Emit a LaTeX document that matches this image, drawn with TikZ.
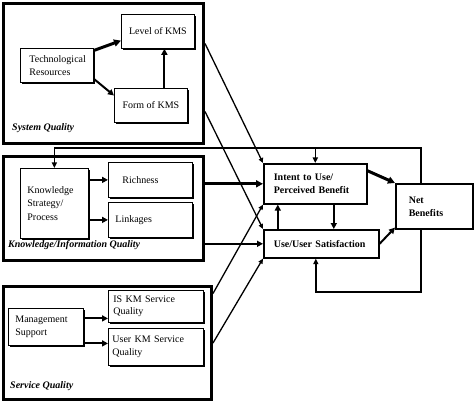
\documentclass[tikz,border=0pt]{standalone}
\usepackage{fontspec}
\setmainfont{Liberation Serif}
\usetikzlibrary{arrows.meta,shadows}
\tikzset{
  grp/.style={draw, line width=3pt, anchor=north west, inner sep=0pt},
  glabel/.style={anchor=west, inner sep=0pt, font=\fontsize{10}{12}\selectfont\bfseries\itshape},
  ibox/.style={draw, line width=0.8pt, fill=white, anchor=north west, inner sep=0pt, align=left,
    font=\fontsize{10}{12.5}\selectfont,
    drop shadow={shadow xshift=1.2pt, shadow yshift=-1.2pt, fill=black, opacity=1}},
  mbox/.style={draw, line width=1.6pt, fill=white, anchor=north west, inner sep=0pt, align=left,
    font=\fontsize{10}{13}\selectfont\bfseries,
    drop shadow={shadow xshift=1.5pt, shadow yshift=-1.5pt, fill=black, opacity=1}},
  arr/.style={line width=2pt, -{Triangle[length=6pt,width=6pt]}},
  bigarr/.style={line width=3pt, -{Triangle[length=7pt,width=7pt]}},
  thinarr/.style={line width=1.3pt, -{Triangle[length=5pt,width=4.5pt]}},
  fbarr/.style={line width=1.5pt, -{Triangle[length=5.5pt,width=5pt]}},
}
\begin{document}
\begin{tikzpicture}[x=1pt,y=-1pt]
\useasboundingbox (0,0) rectangle (474,401);

% group boxes
\node[grp, minimum width=200pt, minimum height=140pt] (sq) at (2,2) {};
\node[grp, minimum width=200pt, minimum height=104pt] (kiq) at (2,155) {};
\node[grp, minimum width=208pt, minimum height=113pt] (svq) at (2,285) {};
\node[glabel] (sqlab) at (12,128) {System Quality};
\node[glabel] (kiqlab) at (8,245) {Knowledge/Information Quality};
\node[glabel] (svqlab) at (10,386) {Service Quality};

% inner boxes
\node[ibox, minimum width=73pt, minimum height=34pt, text width=55pt] (tech) at (20,48) {Technological\\Resources};
\node[ibox, minimum width=73pt, minimum height=34pt, align=center] (lev) at (121,14) {Level of KMS};
\node[ibox, minimum width=73pt, minimum height=34pt, align=center] (form) at (114,88) {Form of KMS};
\node[ibox, minimum width=68pt, minimum height=70pt, text width=54pt, font=\fontsize{10}{13.5}\selectfont] (ks) at (20,168) {Knowledge\\Strategy/\\Process};
\node[ibox, minimum width=84pt, minimum height=35pt, text width=56pt] (rich) at (108,162) {Richness};
\node[ibox, minimum width=84pt, minimum height=35pt, text width=70pt] (link) at (108,202) {Linkages};
\node[ibox, minimum width=75pt, minimum height=37pt, text width=61pt] (ms) at (8,308) {Management\\Support};
\node[ibox, minimum width=95pt, minimum height=32pt, text width=85pt] (iskm) at (108,290) {IS KM Service\\Quality};
\node[ibox, minimum width=95pt, minimum height=37pt, text width=87pt] (ukm) at (108,328) {User KM Service\\Quality};

% main boxes
\node[mbox, minimum width=103pt, minimum height=40pt, text width=83pt] (int) at (263,163) {Intent to Use/\\Perceived Benefit};
\node[mbox, minimum width=115pt, minimum height=28pt, text width=95pt] (use) at (263,229) {Use/User Satisfaction};
\node[mbox, minimum width=77pt, minimum height=45pt, text width=51pt] (net) at (395,183) {Net\\Benefits};

\coordinate (fb) at (0,148);
\coordinate (fb2) at (0,292);

% inner arrows
\draw[bigarr] (tech.22) -- (lev.194);
\draw[arr] (tech.-20) -- (form.165);
\draw[arr] ([xshift=13.5pt]form.north) -- ([xshift=6.5pt]lev.south);
\draw[arr] (ks.east |- rich.west) -- (rich.west);
\draw[arr] (ks.east |- link.west) -- (link.west);
\draw[arr] ([yshift=8.5pt]ms.east) -- ([yshift=8.5pt]ms.east -| iskm.west);
\draw[arr] ([yshift=-16.5pt]ms.east) -- ([yshift=-16.5pt]ms.east -| ukm.west);

% group to main
\draw[bigarr] (kiq.east |- int.west) -- (int.west);
\draw[arr] (kiq.east |- use.west) -- (use.west);
\draw[thinarr] ([yshift=30pt]sq.east) -- (int.north west);
\draw[thinarr] ([yshift=-38pt]sq.east) -- (use.north west);
\draw[thinarr] ([yshift=49.5pt]svq.east) -- (int.south west);
\draw[thinarr] (svq.east) -- (use.south west);

% between main boxes
\draw[arr] ([xshift=-43.5pt]use.north) -- ([xshift=-43.5pt]use.north |- int.south);
\draw[arr] ([xshift=18.5pt]int.south) -- ([xshift=18.5pt]int.south |- use.north);
\draw[bigarr] ([yshift=13pt]int.east) -- (net.north west);
\draw[arr] (use.east) -- ([yshift=2pt]net.south west);

% feedback loops
\draw[fbarr] ([xshift=-13.5pt]net.north) |- (ks.north |- fb) -- (ks.north);
\draw[fbarr] (int.north |- fb) -- (int.north);
\draw[fbarr] ([xshift=-13.5pt]net.south) |- ([xshift=-5.5pt]use.south |- fb2) -- ([xshift=-5.5pt]use.south);
\end{tikzpicture}
\end{document}
